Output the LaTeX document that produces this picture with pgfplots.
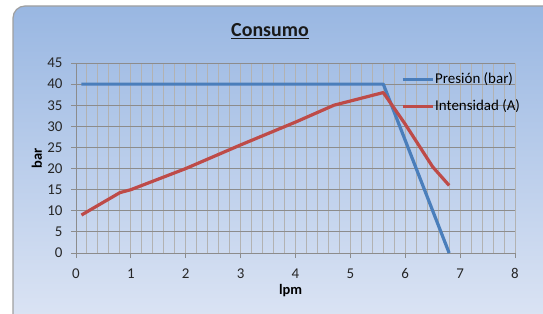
\documentclass[border=0pt]{standalone}
\usepackage{fontspec}
\setmainfont{Carlito}
\usepackage{pgfplots}
\pgfplotsset{compat=1.18}
\definecolor{xlblue}{HTML}{4A7EBB}
\definecolor{xlred}{HTML}{BE4B48}
\definecolor{bgtop}{RGB}{153,183,226}
\definecolor{bgbot}{RGB}{224,231,245}
\definecolor{gridmaj}{RGB}{140,140,140}
\definecolor{gridmin}{RGB}{178,178,178}
\begin{document}
\begin{tikzpicture}[x=1bp,y=1bp]
\path[use as bounding box] (0,0) rectangle (543,313);
\begin{scope}
\clip (0,0) rectangle (543,313);
\draw[draw=gray!75, line width=1.2bp, rounded corners=12bp, top color=bgtop, bottom color=bgbot] (13,-30) rectangle (580,307);
\end{scope}
\node[font=\fontsize{20}{24}\selectfont\bfseries, text=black!90] at (270,282) {\underline{Consumo}};
\begin{axis}[
  at={(76bp,60bp)}, anchor=south west, scale only axis,
  width=439bp, height=190bp,
  xmin=0, xmax=8, ymin=0, ymax=45,
  xtick={0,1,...,8}, ytick={0,5,...,45},
  minor x tick num=4,
  grid=both,
  x grid style={gridmin, line width=1bp},
  y grid style={gridmaj, line width=1bp},
  axis x line*=bottom, axis y line*=left,
  axis line style={gridmaj, line width=1bp},
  tick align=outside, major tick length=5bp, minor tick length=0pt,
  tick style={gridmaj, line width=1bp},
  /pgf/number format/assume math mode=true,
  xticklabel={\pgfmathprintnumber{\tick}},
  yticklabel={\pgfmathprintnumber{\tick}},
  ticklabel style={font=\fontsize{15}{18}\selectfont, text=black!85},
  xticklabel style={yshift=-7bp},
  yticklabel style={xshift=-5bp},
  xlabel={\textbf{lpm}}, ylabel={\textbf{bar}},
  label style={font=\fontsize{14.5}{17}\selectfont, text=black},
  xlabel style={at={(axis description cs:0.489,-0.2)}, anchor=center},
  ylabel style={at={(axis description cs:-0.089,0.5)}, anchor=center},
  legend cell align=left,
  legend style={at={(0.733,0.96)}, anchor=north west, draw=none, fill=none,
    font=\fontsize{15}{18}\selectfont,
    nodes={inner sep=0pt, text height=11bp, text depth=3bp},
    /tikz/row sep=13bp, /tikz/column sep=1bp},
  legend image code/.code={\draw[#1] (0bp,0bp) -- (30bp,0bp);},
]
\addplot[xlblue, line width=3.2bp, line join=round] coordinates {(0.1,40) (5.6,40) (6.8,0)};
\addlegendentry{Presión (bar)}
\addplot[xlred, line width=3.2bp, line join=round] coordinates {(0.1,9) (0.8,14.3) (1,15) (2,20) (3,25.6) (4,31) (4.7,35) (5.6,38) (6,30.5) (6.5,20.4) (6.8,16)};
\addlegendentry{Intensidad (A)}
\end{axis}
\end{tikzpicture}
\end{document}
